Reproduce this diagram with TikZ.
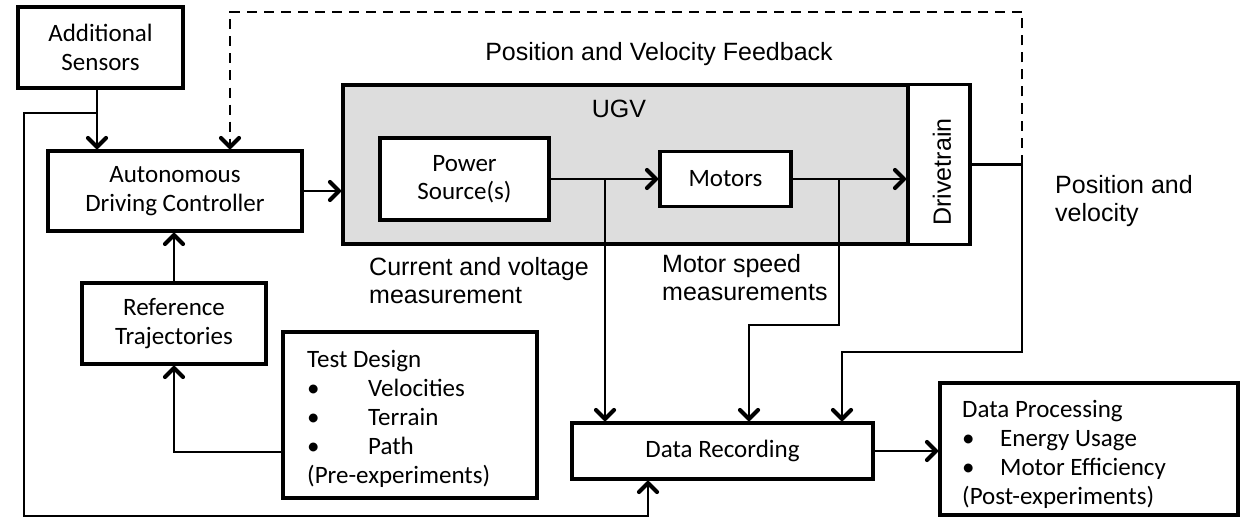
\documentclass[tikz,border=0pt]{standalone}
\usepackage{fontspec}
\setmainfont{Carlito}
\newfontfamily\arialf{Liberation Sans}
\usetikzlibrary{arrows.meta}
\definecolor{ugvgray}{RGB}{221,221,221}
\newcommand\calfont{\fontsize{25}{28.5}\selectfont}
\newcommand\listfont{\fontsize{25}{29}\selectfont}
\newcommand\lblfont{\arialf\fontsize{25}{28}\selectfont}
\begin{document}
\begin{tikzpicture}[x=1pt,y=-1pt,
  box/.style={draw, line width=3.8pt, fill=white, inner sep=0pt, align=center, font=\calfont},
  tipv/.style={-{Straight Barb[length=9pt,width=18pt,line width=4.2pt,round]}},
  conn/.style={line width=2.6pt},
  arr/.style={conn, tipv},
  fbdash/.style={line width=2.8pt, dash pattern=on 10pt off 7pt, tipv},
  lbl/.style={font=\lblfont, inner sep=0pt, align=left}]
\useasboundingbox (0,0) rectangle (1243,519);

% UGV container
\node[draw, fill=ugvgray, line width=3.8pt, minimum width=565, minimum height=159, inner sep=0pt] (ugv) at (625.5,164.5) {};
\node[font=\lblfont, inner sep=0pt] (ugvlbl) at (619,108.5) {UGV};

% boxes
\node[box, minimum width=165, minimum height=81] (addsens) at (100.5,47.5) {Additional\\Sensors};
\node[box, minimum width=254, minimum height=80] (adc) at (175,191) {Autonomous\\Driving Controller};
\node[box, minimum width=169, minimum height=82] (power) at (464.5,179) {Power\\Source(s)};
\node[box, minimum width=131, minimum height=55] (motors) at (725.5,179) {Motors};
\node[draw, fill=white, line width=3.8pt, minimum width=62, minimum height=160, inner sep=0pt] (drive) at (939,164.5) {};
\node[font=\lblfont, inner sep=0pt, rotate=90] (drivelbl) at (942,172) {Drivetrain};
\node[box, minimum width=184, minimum height=81] (ref) at (174,323.5) {Reference\\Trajectories};
\node[box, minimum width=254, minimum height=166] (test) at (410,415) {};
\node[anchor=north west, align=left, font=\listfont, inner sep=0pt] (testtxt) at (307,350.5)
  {Test Design\\\makebox[61pt][l]{\textbullet}Velocities\\\makebox[61pt][l]{\textbullet}Terrain\\\makebox[61pt][l]{\textbullet}Path\\(Pre-experiments)};
\node[box, minimum width=301, minimum height=56] (dr) at (722.5,451) {Data Recording};
\node[box, minimum width=298, minimum height=132] (dp) at (1089,449) {};
\node[anchor=north west, align=left, font=\listfont, inner sep=0pt] (dptxt) at (962,400.5)
  {Data Processing\\\makebox[38pt][l]{\textbullet}Energy Usage\\\makebox[38pt][l]{\textbullet}Motor Efficiency\\(Post-experiments)};

% labels
\node[font=\lblfont, inner sep=0pt, anchor=base] (fblbl) at (659,61) {Position and Velocity Feedback};
\node[lbl, anchor=north west] (cvlbl) at (369,257) {Current and voltage\\measurement};
\node[lbl, anchor=north west] (mslbl) at (662,254) {Motor speed\\measurements};
\node[lbl, anchor=north west] (pvlbl) at (1055,175) {Position and\\velocity};

% coordinates
\coordinate (psplit) at (605,179);
\coordinate (msplit) at (839,179);
\coordinate (m2) at (749,325);
\coordinate (fb) at (1022,164.5);
\coordinate (fb2) at (842,352);
\coordinate (dtop) at (230,12);
\coordinate (as) at (97,113);
\coordinate (lb) at (24,516);
\coordinate (bb) at (648,516);
\coordinate (tr) at (174,452);

% connectors
\draw[arr] (adc.east) -- (adc.east -| ugv.west);
\draw[arr] (power.east) -- (motors.west);
\draw[arr] (psplit) -- (psplit |- dr.north);
\draw[arr] (motors.east) -- (motors.east -| drive.west);
\draw[arr] (msplit) -- (msplit |- m2) -- (m2) -- (m2 |- dr.north);
\draw[conn] (drive.east) -- (fb);
\draw[arr] (fb) -- (fb |- fb2) -- (fb2) -- (fb2 |- dr.north);
\draw[fbdash] (fb) -- (fb |- dtop) -- (dtop) -- (dtop |- adc.north);
\draw[arr] (addsens.south -| as) -- (as |- adc.north);
\draw[arr] (as) -- (as -| lb) -- (lb) -- (bb) -- (bb |- dr.south);
\draw[arr] (ref.north) -- (ref.north |- adc.south);
\draw[arr] (test.west |- tr) -- (tr) -- (ref.south);
\draw[arr] (dr.east) -- (dr.east -| dp.west);
\end{tikzpicture}
\end{document}
